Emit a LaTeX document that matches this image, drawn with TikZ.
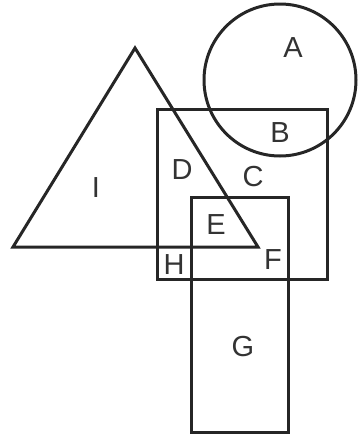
\documentclass[tikz,border=0pt]{standalone}
\usepackage{fontspec}
\setmainfont{Liberation Sans}
\usepackage{tikz}
\tikzset{
  shp/.style ={draw=black!85, line width=3pt, line join=miter},
  lbl/.style ={font=\fontsize{29}{32}\selectfont, text=black!80, inner sep=0pt},
}

\begin{document}
\begin{tikzpicture}[x=1pt,y=-1pt]
  \useasboundingbox (0,0) rectangle (358,440);
  % shapes
  \draw[shp] (280,80) circle[radius=76];
  \draw[shp] (157,109) rectangle (327,279);
  \draw[shp] (135,48) -- (13,247) -- (258,247) -- cycle;
  \draw[shp] (191,197) rectangle (288,432);
  % region labels
  \node[lbl] (a) at (293,48) {A};
  \node[lbl] (b) at (280,133) {B};
  \node[lbl] (c) at (253,177) {C};
  \node[lbl] (d) at (182,170) {D};
  \node[lbl] (e) at (216,225) {E};
  \node[lbl] (f) at (273,260) {F};
  \node[lbl] (g) at (243,347) {G};
  \node[lbl] (h) at (174,265) {H};
  \node[lbl] (i) at (96,188) {I};
\end{tikzpicture}
\end{document}
